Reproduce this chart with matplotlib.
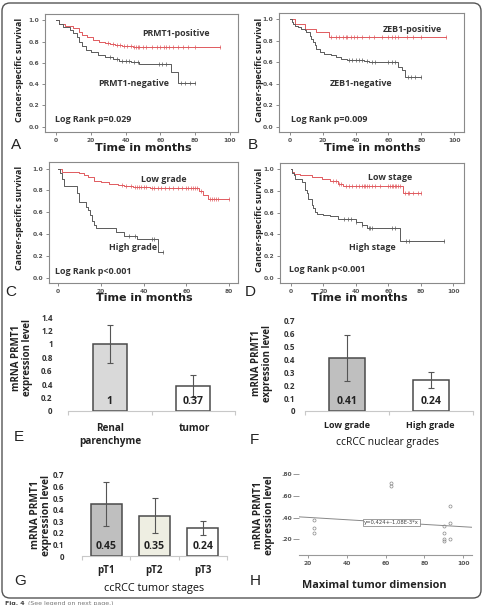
import numpy as np
import matplotlib.pyplot as plt
from matplotlib.patches import FancyBboxPatch

# ---------------- data ----------------
# Kaplan-Meier curves: event times, survival after each event, last follow-up, censored times
a_pos_t = [2, 5, 10, 13, 15, 18, 21, 25, 28, 31, 34, 38, 44]
a_pos_s = [0.97, 0.95, 0.93, 0.89, 0.86, 0.84, 0.82, 0.80, 0.79, 0.78, 0.77, 0.76, 0.75]
a_pos_end = 94
a_pos_cens = [30, 33, 35, 37, 39, 41, 43, 45, 46, 47, 48, 50, 52, 55, 58, 60, 62, 63, 65,
              67, 70, 73, 76, 80, 94]
a_neg_t = [2, 4, 8, 10, 12, 13, 15, 17, 20, 24, 28, 33, 36, 43, 48, 66, 70]
a_neg_s = [0.97, 0.94, 0.91, 0.88, 0.84, 0.80, 0.76, 0.72, 0.70, 0.67, 0.66, 0.64, 0.62,
           0.61, 0.59, 0.51, 0.41]
a_neg_end = 80
a_neg_cens = [31, 35, 38, 40, 42, 45, 47, 59, 61, 63, 72, 74, 77, 80]

b_pos_t = [3, 9, 16, 24]
b_pos_s = [0.96, 0.91, 0.88, 0.84]
b_pos_end = 95
b_pos_cens = [25, 28, 30, 32, 34, 35, 37, 39, 41, 44, 48, 51, 56, 60, 62, 64, 66, 71, 75, 80, 95]
b_neg_t = [1, 2, 3, 5, 7, 9, 10, 12, 13, 14, 15, 16, 18, 21, 25, 28, 31, 35, 45, 48, 66, 68, 70]
b_neg_s = [0.98, 0.96, 0.94, 0.93, 0.91, 0.90, 0.88, 0.85, 0.82, 0.79, 0.76, 0.72, 0.70,
           0.68, 0.67, 0.65, 0.63, 0.62, 0.61, 0.60, 0.56, 0.53, 0.46]
b_neg_end = 80
b_neg_cens = [36, 38, 40, 42, 44, 47, 50, 52, 60, 62, 64, 72, 74, 76, 80]

c_low_t = [2, 10, 12, 14, 17, 20, 24, 28, 31, 35, 43, 66, 68, 70]
c_low_s = [0.97, 0.96, 0.94, 0.92, 0.89, 0.88, 0.86, 0.85, 0.84, 0.83, 0.82, 0.79, 0.76, 0.72]
c_low_end = 80
c_low_cens = [30, 32, 34, 36, 37, 38, 39, 40, 41, 44, 45, 47, 48, 50, 52, 54, 56, 58, 60,
              61, 62, 63, 64, 65, 67, 71, 72, 73, 74, 75, 80]
c_high_t = [1, 2, 3, 9, 10, 13, 14, 15, 16, 17, 18, 27, 31, 37, 47]
c_high_s = [0.96, 0.90, 0.84, 0.78, 0.69, 0.65, 0.62, 0.57, 0.52, 0.48, 0.45, 0.42, 0.38,
            0.35, 0.23]
c_high_end = 49
c_high_cens = [33, 36, 44, 45, 49]

d_low_t = [1, 2, 6, 13, 19, 24, 29, 32, 69]
d_low_s = [0.98, 0.96, 0.945, 0.93, 0.91, 0.89, 0.87, 0.85, 0.78]
d_low_end = 80
d_low_cens = [26, 28, 30, 31, 34, 36, 38, 40, 42, 44, 45, 46, 47, 48, 50, 52, 55, 60, 61,
              62, 63, 64, 65, 66, 67, 70, 72, 73, 75, 78, 80]
d_high_t = [1, 2, 3, 7, 9, 10, 11, 13, 14, 15, 16, 20, 24, 29, 40, 44, 47, 67]
d_high_s = [0.97, 0.95, 0.91, 0.88, 0.81, 0.78, 0.73, 0.67, 0.64, 0.61, 0.59, 0.58, 0.57,
            0.54, 0.51, 0.49, 0.455, 0.34]
d_high_end = 94
d_high_cens = [33, 35, 37, 40, 44, 48, 49, 50, 62, 64, 71, 73, 94]

# mRNA PRMT1 bars
e_cats = ["Renal\nparenchyme", "tumor"]
e_vals = [1.0, 0.37]
e_errs = [0.28, 0.16]
f_cats = ["Low grade", "High grade"]
f_vals = [0.41, 0.24]
f_errs = [0.18, 0.06]
g_cats = ["pT1", "pT2", "pT3"]
g_vals = [0.45, 0.35, 0.24]
g_errs = [0.19, 0.15, 0.06]

# scatter vs tumor size
h_x = [23, 23, 23, 63, 63, 90, 90, 90, 90, 93, 93, 93]
h_y = [0.38, 0.30, 0.26, 0.72, 0.69, 0.32, 0.26, 0.20, 0.18, 0.51, 0.35, 0.20]
h_fit = (0.424, -1.08e-3)

RED = "#e05a5f"
GREY = "#5a5a5a"

W, H = 484, 605
fig = plt.figure(figsize=(W / 100, H / 100), dpi=100)
# pixel-coordinate overlay for free text and the outer frame
canvas = fig.add_axes([0, 0, 1, 1], zorder=10)
canvas.set_xlim(0, W)
canvas.set_ylim(H, 0)
canvas.axis("off")


def rect(l, t, r, b):
    return [l / W, 1 - b / H, (r - l) / W, (b - t) / H]


def txt(x, y, s, **kw):
    kw.setdefault("ha", "center")
    kw.setdefault("va", "center")
    canvas.text(x, y, s, **kw)


def km_at(times, surv, x):
    idx = np.searchsorted(times, x, side="right")
    return np.r_[1.0, surv][idx]


def km_panel(box, curves, xlim, xticks):
    ax = fig.add_axes(rect(*box))
    for t, s, end, cens, color in curves:
        ax.step(np.r_[0, t, end], np.r_[1.0, s, s[-1]], where="post", color=color, lw=0.7)
        ax.plot(cens, km_at(t, s, cens), ls="none", marker="|", ms=2.5, mew=0.5, color=color)
    ax.set_xlim(xlim)
    ax.set_ylim(-0.05, 1.06)
    ax.set_xticks(xticks)
    ax.set_yticks(np.arange(0, 1.01, 0.2))
    ax.set_yticklabels([f"{v:.1f}" for v in np.arange(0, 1.01, 0.2)])
    for sp in ax.spines.values():
        sp.set_color("#8a8a8a")
        sp.set_linewidth(0.8)
    ax.tick_params(length=2.5, width=0.6, color="#777", labelsize=4.3,
                   labelcolor="#555", pad=1.5)
    for lbl in ax.get_xticklabels() + ax.get_yticklabels():
        lbl.set_fontweight("bold")
    return ax


def bar_panel(box, cats, vals, errs, colors, ymax, yticks, ylabels, width, pad):
    ax = fig.add_axes(rect(*box))
    x = np.arange(len(cats))
    ax.bar(x, vals, width=width, color=colors, edgecolor="#4a4a4a", lw=1.1, zorder=2)
    ax.errorbar(x, vals, yerr=errs, fmt="none", ecolor="#555555", elinewidth=0.8,
                capsize=2.5, capthick=0.8, zorder=3)
    for xi, v in zip(x, vals):
        ax.annotate(f"{v:g}", (xi, 0), xytext=(0, 7), textcoords="offset points",
                    ha="center", va="center", fontsize=7.6, fontweight="bold",
                    family="Open Sans", color="#222")
    ax.set_xlim(-0.5, len(cats) - 0.5)
    ax.set_ylim(0, ymax)
    for side in ("top", "right", "left"):
        ax.spines[side].set_visible(False)
    ax.spines["bottom"].set_color("#c8c8c8")
    ax.spines["bottom"].set_linewidth(0.8)
    ax.set_yticks(yticks)
    ax.set_yticklabels(ylabels, fontsize=5.8, fontweight="bold", family="Open Sans",
                       color="#333")
    ax.tick_params(axis="y", length=0, pad=pad)
    ax.set_xticks(np.arange(-0.5, len(cats)), minor=True)
    ax.set_xticks(x)
    ax.set_xticklabels([])
    ax.tick_params(axis="x", which="major", length=0)
    ax.tick_params(axis="x", which="minor", length=3, color="#c8c8c8", width=0.8)
    return ax


LAB = dict(fontsize=6.4, fontweight="bold", family="Open Sans", color="#333")
BOLD = dict(fontweight="bold", family="Open Sans", color="#222")

# ---------------- A ----------------
km_panel((45, 14, 238, 132),
         [(a_pos_t, a_pos_s, a_pos_end, a_pos_cens, RED),
          (a_neg_t, a_neg_s, a_neg_end, a_neg_cens, GREY)],
         (-6.3, 104.6), [0, 20, 40, 60, 80, 100])
txt(176, 34, "PRMT1-positive", **LAB)
txt(134, 84, "PRMT1-negative", **LAB)
txt(55, 120, "Log Rank p=0.029", ha="left", **LAB)

# ---------------- B ----------------
km_panel((279, 13, 464, 132),
         [(b_pos_t, b_pos_s, b_pos_end, b_pos_cens, RED),
          (b_neg_t, b_neg_s, b_neg_end, b_neg_cens, GREY)],
         (-6.7, 106), [0, 20, 40, 60, 80, 100])
txt(412, 30, "ZEB1-positive", **LAB)
txt(361, 84, "ZEB1-negative", **LAB)
txt(291, 120, "Log Rank p=0.009", ha="left", **LAB)

# ---------------- C ----------------
km_panel((49, 162, 238, 283),
         [(c_low_t, c_low_s, c_low_end, c_low_cens, RED),
          (c_high_t, c_high_s, c_high_end, c_high_cens, GREY)],
         (-4.2, 84.2), [0, 20, 40, 60, 80])
txt(164, 180, "Low grade", **LAB)
txt(133, 248, "High grade", **LAB)
txt(55, 271, "Log Rank p<0.001", ha="left", **LAB)

# ---------------- D ----------------
km_panel((280, 163, 464, 283),
         [(d_low_t, d_low_s, d_low_end, d_low_cens, RED),
          (d_high_t, d_high_s, d_high_end, d_high_cens, GREY)],
         (-6.5, 106.5), [0, 20, 40, 60, 80, 100])
txt(390, 177, "Low stage", **LAB)
txt(372, 247, "High stage", **LAB)
txt(289, 270, "Log Rank p<0.001", ha="left", **LAB)

for x, y in [(20, 70), (259, 70), (20, 218), (259, 220)]:
    txt(x, y, "Cancer-specific survival", rotation=90, fontsize=6.4, **BOLD)
for x, y in [(143, 148), (372, 148), (144, 298), (359, 298)]:
    txt(x, y, "Time in months", fontsize=8, fontweight="bold", family="DejaVu Sans",
        color="#222")

# ---------------- E ----------------
bar_panel((68, 317, 235, 411), e_cats, e_vals, e_errs, ["#d9d9d9", "white"], 1.4,
          np.arange(0, 1.41, 0.2), ["0", "0.2", "0.4", "0.6", "0.8", "1", "1.2", "1.4"],
          0.41, 11)
for xc, lab in [(110, "Renal\nparenchyme"), (194, "tumor")]:
    txt(xc, 423, lab, va="top", fontsize=7.2, linespacing=1.3, **BOLD)

# ---------------- F ----------------
bar_panel((305, 321, 473, 411), f_cats, f_vals, f_errs, ["#bfbfbf", "white"], 0.7,
          np.arange(0, 0.71, 0.1), ["0", "0.1", "0.2", "0.3", "0.4", "0.5", "0.6", "0.7"],
          0.42, 7)
for xc, lab in [(347, "Low grade"), (430, "High grade")]:
    txt(xc, 425, lab, fontsize=6.5, **BOLD)
txt(388, 443, "ccRCC nuclear grades", fontsize=7.4, family="Open Sans", color="#111")

# ---------------- G ----------------
bar_panel((82, 475, 227, 556), g_cats, g_vals, g_errs, ["#bfbfbf", "#eeeee2", "white"], 0.7,
          np.arange(0, 0.71, 0.1), ["0", "0.1", "0.2", "0.3", "0.4", "0.5", "0.6", "0.7"],
          0.64, 13)
for xc, lab in [(106, "pT1"), (154, "pT2"), (203, "pT3")]:
    txt(xc, 571, lab, fontsize=7, **BOLD)
txt(154, 588, "ccRCC tumor stages", fontsize=7.8, family="Open Sans", color="#111")

for x, y, fs in [(22, 358, 7), (262, 363, 7), (41, 515, 7.3), (264, 515, 7.2)]:
    txt(x, y, "mRNA PRMT1\nexpression level", rotation=90, fontsize=fs, linespacing=1.0,
        **BOLD)

# ---------------- H ----------------
ax_h = fig.add_axes(rect(299, 466, 472, 555))
ax_h.set_xlim(15.4, 104.5)
ax_h.set_ylim(0.055, 0.877)
ax_h.plot(h_x, h_y, ls="none", marker="o", ms=2.2, mfc="none", mec="#888", mew=0.5)
xx = np.array(ax_h.get_xlim())
ax_h.plot(xx, h_fit[0] + h_fit[1] * xx, color="#888", lw=0.7)
ax_h.text(63, h_fit[0] + h_fit[1] * 63, "y=0,424+-1,08E-3*x", ha="center", va="center",
          fontsize=3.8, color="#444",
          bbox=dict(boxstyle="square,pad=0.25", fc="white", ec="#777", lw=0.5))
for side in ("top", "right", "left"):
    ax_h.spines[side].set_visible(False)
ax_h.spines["bottom"].set_color("#999")
ax_h.spines["bottom"].set_linewidth(0.8)
ax_h.set_xticks([20, 40, 60, 80, 100])
ax_h.set_yticks([0.2, 0.4, 0.6, 0.8])
ax_h.set_yticklabels([".20", ".40", ".60", ".80"])
ax_h.tick_params(axis="y", length=4, width=0.6, color="#888", pad=1, labelsize=4.3,
                 labelcolor="#555")
ax_h.tick_params(axis="x", length=2, width=0.6, color="#888", pad=2, labelsize=4.3,
                 labelcolor="#555")
for lbl in ax_h.get_xticklabels() + ax_h.get_yticklabels():
    lbl.set_fontweight("bold")
txt(374, 586, "Maximal tumor dimension", fontsize=7.8, **BOLD)

# panel letters
for x, y, s in [(16, 145, "A"), (253, 145, "B"), (11, 292, "C"), (250, 292, "D"),
                (19, 437, "E"), (254, 440, "F"), (20, 581, "G"), (255, 581, "H")]:
    txt(x, y, s, fontsize=11, family="Liberation Sans", color="#222")

# outer frame and caption
canvas.add_patch(FancyBboxPatch((2, 3), 479, 595, boxstyle="round,pad=0,rounding_size=8",
                                fc="none", ec="#555", lw=1))
canvas.text(5, 603, "Fig. 4", fontsize=4.5, fontweight="bold", color="#444", va="center")
canvas.text(28, 603, "(See legend on next page.)", fontsize=4.5, color="#777", va="center")

fig.savefig("out.png", dpi=100)
